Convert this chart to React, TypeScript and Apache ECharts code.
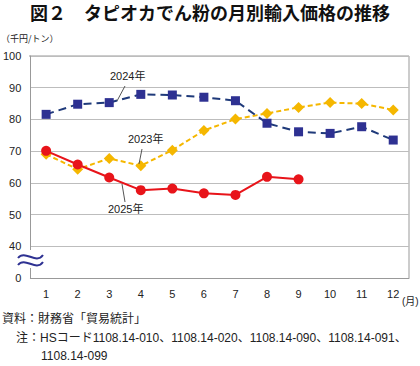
import React, { useEffect, useRef } from "react";
import * as echarts from "echarts";

const months = ["1", "2", "3", "4", "5", "6", "7", "8", "9", "10", "11", "12"];
const yTicks = [30, 40, 50, 60, 70, 80, 90, 100];
const s2023 = [69.0, 64.3, 67.7, 65.4, 70.3, 76.5, 80.1, 81.9, 83.8, 85.3, 85.0, 83.0];
const s2024 = [81.6, 84.8, 85.3, 87.9, 87.7, 87.0, 85.9, 78.8, 76.1, 75.6, 77.7, 73.5];
const s2025 = [70.1, 65.8, 61.7, 57.7, 58.2, 56.7, 56.2, 61.9, 61.1];

const FONT = "'Noto Sans CJK JP', 'Noto Sans', sans-serif";
const LFONT = "'Liberation Sans', 'Noto Sans CJK JP', sans-serif";
const NAVY = "#2e3192";
const YELLOW = "#f5b700";
const RED = "#e8141a";

export default function App() {
  const ref = useRef<HTMLDivElement>(null);
  useEffect(() => {
    if (!ref.current) return;
    const chart = echarts.init(ref.current, undefined, { renderer: "svg" });
    const wave = (x: number, y: number) => ({
      type: "bezierCurve",
      shape: { x1: x, y1: y + 3, cpx1: x + 7, cpy1: y - 6, cpx2: x + 18, cpy2: y + 10, x2: x + 25, y2: y },
      style: { stroke: NAVY, lineWidth: 2, fill: null },
      z: 100,
    });
    chart.setOption({
      animation: false,
      backgroundColor: "#fff",
      textStyle: { fontFamily: LFONT },
      grid: { left: 29, right: 11, top: 56, bottom: 88 },
      xAxis: {
        type: "category",
        data: months,
        boundaryGap: true,
        axisLine: { show: true, lineStyle: { color: "#999", width: 1 } },
        axisTick: { show: false },
        axisLabel: { color: "#222", fontSize: 11, margin: 10, fontFamily: LFONT },
        splitLine: { show: false },
      },
      yAxis: {
        type: "value",
        min: 30,
        max: 100,
        interval: 10,
        axisLine: { show: true, lineStyle: { color: "#999", width: 1 } },
        axisTick: { show: false },
        axisLabel: {
          color: "#222",
          fontSize: 11,
          margin: 9,
          fontFamily: LFONT,
          showMinLabel: true,
          showMaxLabel: true,
          hideOverlap: false,
          formatter: (v: number) => (Number(v) === yTicks[0] ? "0" : String(v)),
        },
        splitLine: { show: true, lineStyle: { color: "#bdbdbd", width: 1 } },
      },
      series: [
        {
          name: "2023年",
          type: "line",
          data: s2023,
          symbol: "diamond",
          symbolSize: 11,
          itemStyle: { color: YELLOW },
          lineStyle: { color: YELLOW, width: 2, type: [5, 3] },
          z: 2,
        },
        {
          name: "2024年",
          type: "line",
          data: s2024,
          symbol: "rect",
          symbolSize: 9,
          itemStyle: { color: NAVY },
          lineStyle: { color: "#1f3a7a", width: 2, type: [8, 5] },
          z: 3,
        },
        {
          name: "2025年",
          type: "line",
          data: s2025,
          symbol: "circle",
          symbolSize: 10,
          itemStyle: { color: RED },
          lineStyle: { color: RED, width: 2 },
          z: 4,
        },
      ],
      graphic: [
        {
          type: "text",
          left: "center",
          top: 3,
          style: { text: "図２　タピオカでん粉の月別輸入価格の推移", font: `bold 18px ${FONT}`, fill: "#111" },
        },
        { type: "text", x: 1, y: 34, style: { text: "（千円/トン）", font: `9px ${FONT}`, fill: "#222" } },
        // plot frame: top and right border
        { type: "line", shape: { x1: 29, y1: 56, x2: 409, y2: 56 }, style: { stroke: "#999", lineWidth: 1 } },
        { type: "line", shape: { x1: 409, y1: 56, x2: 409, y2: 278 }, style: { stroke: "#999", lineWidth: 1 } },
        // axis break
        { type: "rect", shape: { x: 24, y: 250, width: 10, height: 18 }, style: { fill: "#fff" }, z: 99 },
        wave(18, 255),
        wave(18, 262),
        // series labels
        { type: "text", x: 110, y: 70, style: { text: "2024年", font: `11px ${LFONT}`, fill: "#222" }, z: 50 },
        { type: "line", shape: { x1: 125, y1: 86, x2: 117, y2: 101 }, style: { stroke: "#555", lineWidth: 1 }, z: 50 },
        { type: "text", x: 128, y: 133, style: { text: "2023年", font: `11px ${LFONT}`, fill: "#222" }, z: 50 },
        { type: "line", shape: { x1: 142, y1: 149, x2: 139, y2: 164 }, style: { stroke: "#555", lineWidth: 1 }, z: 50 },
        { type: "text", x: 108, y: 203, style: { text: "2025年", font: `11px ${LFONT}`, fill: "#222" }, z: 50 },
        { type: "line", shape: { x1: 122, y1: 184, x2: 125, y2: 202 }, style: { stroke: "#555", lineWidth: 1 }, z: 50 },
        { type: "text", x: 402, y: 296, style: { text: "(月)", font: `10px ${LFONT}`, fill: "#222" } },
        // footer
        { type: "text", x: 2, y: 313, style: { text: "資料：財務省「貿易統計」", font: `12px ${LFONT}`, fill: "#222" } },
        { type: "text", x: 16, y: 332, style: { text: "注：HSコード1108.14-010、1108.14-020、1108.14-090、1108.14-091、", font: `12px ${LFONT}`, fill: "#222" } },
        { type: "text", x: 41, y: 350, style: { text: "1108.14-099", font: `12px ${LFONT}`, fill: "#222" } },
      ],
    });
    return () => chart.dispose();
  }, []);
  return <div ref={ref} style={{ width: 420, height: 366, position: "fixed", left: 0, top: 0 }} />;
}
